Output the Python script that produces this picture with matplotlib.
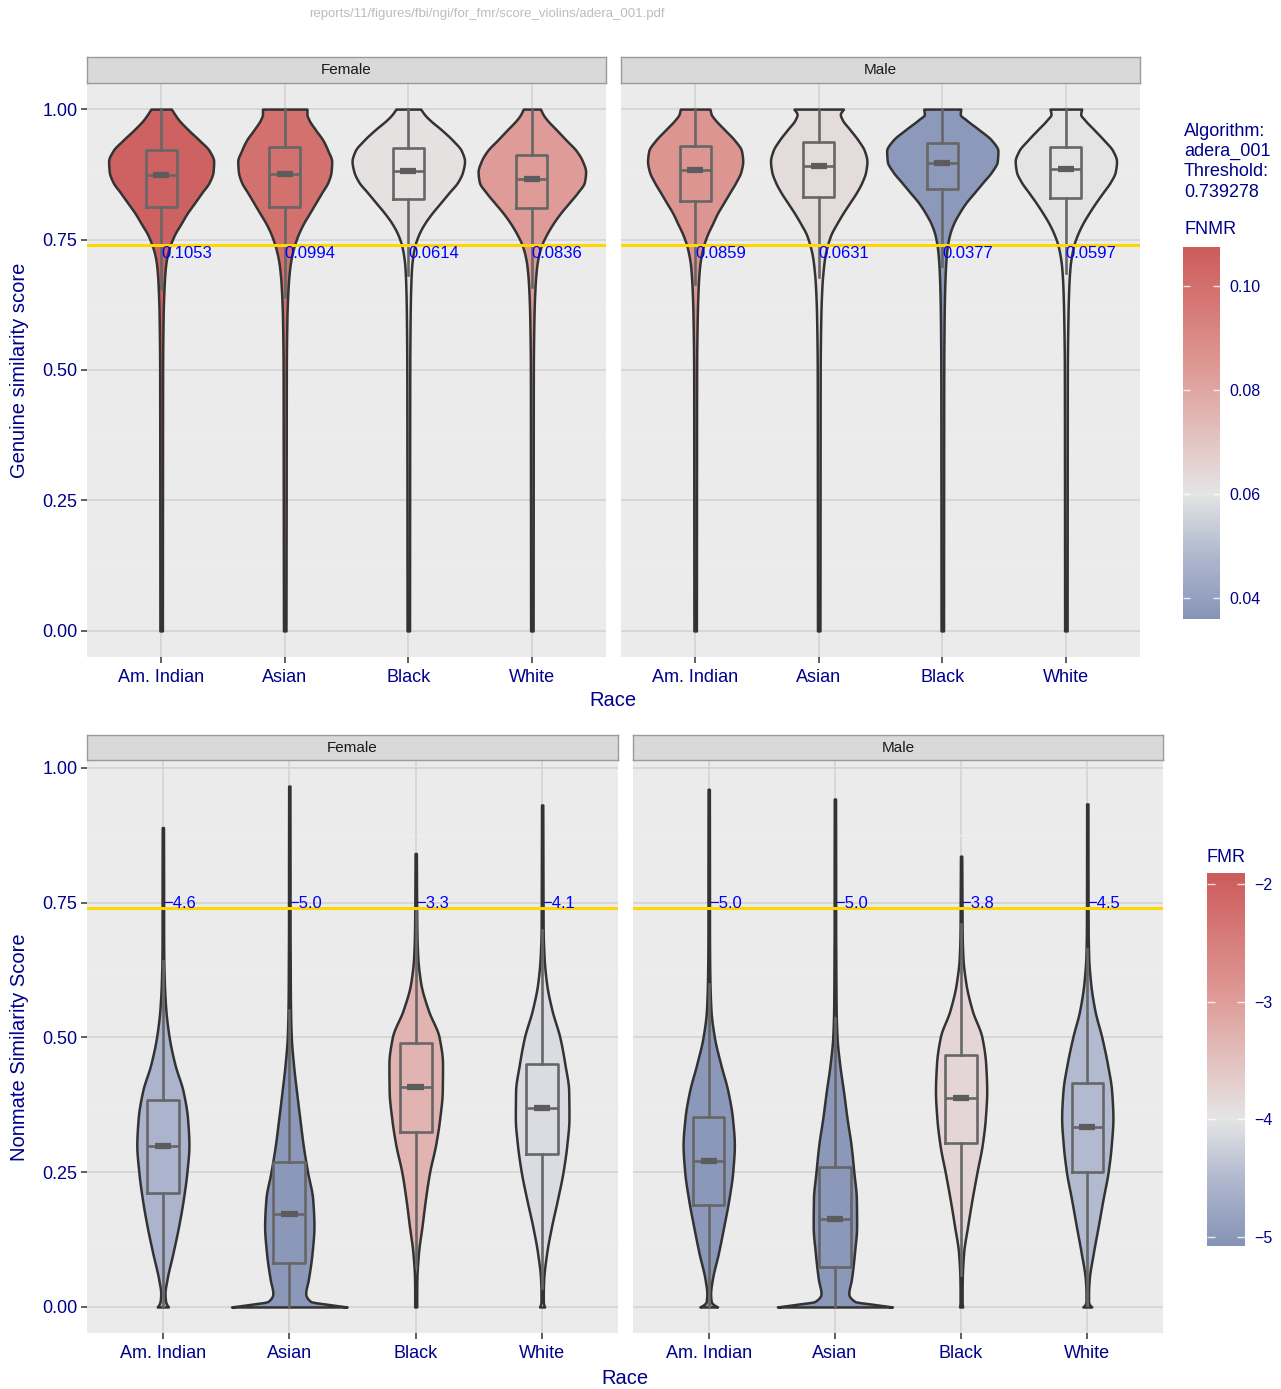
import numpy as np
import matplotlib
matplotlib.use("Agg")
import matplotlib.pyplot as plt
from matplotlib.colors import LinearSegmentedColormap, Normalize

plt.rcParams['font.family'] = ['Liberation Sans', 'DejaVu Sans']

# ---------------- data ----------------
RACES = ["Am. Indian", "Asian", "Black", "White"]
SEXES = ["Female", "Male"]
THRESHOLD = 0.739278
ALGORITHM = "adera_001"

FNMR_F = [0.1053, 0.0994, 0.0614, 0.0836]
FNMR_M = [0.0859, 0.0631, 0.0377, 0.0597]
FMR_F = [-4.6, -5.0, -3.3, -4.1]
FMR_M = [-5.0, -5.0, -3.8, -4.5]

# genuine score boxplot statistics
GEN_F_WLO = [0.655, 0.640, 0.683, 0.659]
GEN_F_Q1 = [0.813, 0.812, 0.828, 0.811]
GEN_F_MED = [0.873, 0.876, 0.881, 0.866]
GEN_F_Q3 = [0.922, 0.928, 0.925, 0.912]
GEN_F_WHI = [1.0, 1.0, 1.0, 1.0]
GEN_M_WLO = [0.665, 0.678, 0.700, 0.685]
GEN_M_Q1 = [0.824, 0.832, 0.847, 0.830]
GEN_M_MED = [0.884, 0.891, 0.896, 0.885]
GEN_M_Q3 = [0.929, 0.937, 0.935, 0.928]
GEN_M_WHI = [1.0, 1.0, 1.0, 1.0]

# genuine violin half-widths (category units) at score levels GEN_Y
GEN_Y = [0.0, 0.30, 0.50, 0.60, 0.66, 0.70, 0.72, 0.74, 0.76, 0.78, 0.80,
         0.82, 0.84, 0.86, 0.88, 0.90, 0.92, 0.94, 0.96, 0.98, 0.99, 1.00]
GEN_F_AMI = [0.010, 0.011, 0.012, 0.016, 0.024, 0.036, 0.050, 0.075, 0.110, 0.160, 0.210,
             0.270, 0.330, 0.390, 0.420, 0.425, 0.390, 0.310, 0.220, 0.140, 0.110, 0.083]
GEN_F_ASI = [0.010, 0.012, 0.013, 0.018, 0.028, 0.043, 0.058, 0.080, 0.110, 0.150, 0.200,
             0.250, 0.300, 0.350, 0.375, 0.380, 0.350, 0.310, 0.250, 0.195, 0.180, 0.180]
GEN_F_BLK = [0.010, 0.011, 0.012, 0.015, 0.020, 0.028, 0.038, 0.055, 0.085, 0.130, 0.190,
             0.260, 0.330, 0.400, 0.440, 0.455, 0.430, 0.360, 0.270, 0.170, 0.130, 0.100]
GEN_F_WHT = [0.010, 0.011, 0.012, 0.017, 0.026, 0.040, 0.055, 0.080, 0.120, 0.170, 0.230,
             0.300, 0.370, 0.425, 0.435, 0.410, 0.360, 0.280, 0.200, 0.120, 0.090, 0.070]
GEN_M_AMI = [0.010, 0.011, 0.012, 0.017, 0.025, 0.037, 0.050, 0.070, 0.100, 0.140, 0.180,
             0.230, 0.280, 0.330, 0.370, 0.385, 0.375, 0.320, 0.240, 0.160, 0.130, 0.120]
GEN_M_ASI = [0.010, 0.011, 0.012, 0.017, 0.026, 0.040, 0.052, 0.072, 0.100, 0.145, 0.195,
             0.250, 0.305, 0.350, 0.380, 0.390, 0.370, 0.320, 0.255, 0.190, 0.175, 0.200]
GEN_M_BLK = [0.010, 0.011, 0.012, 0.015, 0.020, 0.027, 0.033, 0.043, 0.060, 0.090, 0.135,
             0.190, 0.260, 0.330, 0.400, 0.445, 0.450, 0.400, 0.300, 0.190, 0.145, 0.150]
GEN_M_WHT = [0.010, 0.011, 0.012, 0.017, 0.024, 0.035, 0.047, 0.065, 0.095, 0.135, 0.185,
             0.240, 0.300, 0.360, 0.400, 0.410, 0.380, 0.310, 0.230, 0.150, 0.120, 0.128]

# nonmate score boxplot statistics
NON_F_WLO = [0.0, 0.0, 0.076, 0.035]
NON_F_Q1 = [0.211, 0.082, 0.324, 0.284]
NON_F_MED = [0.298, 0.173, 0.408, 0.369]
NON_F_Q3 = [0.383, 0.269, 0.489, 0.450]
NON_F_WHI = [0.641, 0.550, 0.736, 0.699]
NON_M_WLO = [0.0, 0.0, 0.060, 0.003]
NON_M_Q1 = [0.189, 0.075, 0.304, 0.251]
NON_M_MED = [0.270, 0.163, 0.387, 0.334]
NON_M_Q3 = [0.353, 0.259, 0.467, 0.416]
NON_M_WHI = [0.599, 0.535, 0.711, 0.663]
NON_F_MAX = [0.889, 0.966, 0.841, 0.931]
NON_M_MAX = [0.960, 0.942, 0.836, 0.933]

# nonmate violin half-widths at score levels NON_Y (then thin up to the max)
NON_Y = [0.0, 0.005, 0.01, 0.025, 0.05, 0.10, 0.15, 0.20, 0.25, 0.30, 0.35,
         0.40, 0.45, 0.50, 0.55, 0.60, 0.65, 0.70, 0.75]
NON_F_AMI = [0.044, 0.030, 0.022, 0.017, 0.032, 0.080, 0.125, 0.162, 0.190, 0.206, 0.195,
             0.160, 0.095, 0.050, 0.024, 0.012, 0.007, 0.006, 0.006]
NON_F_ASI = [0.457, 0.300, 0.170, 0.130, 0.150, 0.180, 0.195, 0.185, 0.145, 0.110, 0.083,
             0.057, 0.033, 0.016, 0.010, 0.008, 0.007, 0.006, 0.006]
NON_F_BLK = [0.008, 0.008, 0.008, 0.008, 0.009, 0.022, 0.050, 0.077, 0.110, 0.157, 0.190,
             0.210, 0.212, 0.185, 0.100, 0.040, 0.016, 0.009, 0.007]
NON_F_WHT = [0.020, 0.012, 0.009, 0.009, 0.012, 0.036, 0.075, 0.122, 0.165, 0.195, 0.212,
             0.210, 0.180, 0.140, 0.078, 0.035, 0.015, 0.008, 0.007]
NON_M_AMI = [0.070, 0.035, 0.020, 0.015, 0.028, 0.077, 0.120, 0.160, 0.190, 0.203, 0.188,
             0.152, 0.095, 0.045, 0.018, 0.010, 0.007, 0.006, 0.006]
NON_M_ASI = [0.456, 0.300, 0.160, 0.110, 0.130, 0.155, 0.172, 0.170, 0.150, 0.128, 0.096,
             0.068, 0.038, 0.017, 0.010, 0.008, 0.007, 0.006, 0.006]
NON_M_BLK = [0.012, 0.009, 0.008, 0.008, 0.009, 0.020, 0.052, 0.087, 0.126, 0.167, 0.192,
             0.203, 0.195, 0.165, 0.088, 0.038, 0.014, 0.008, 0.007]
NON_M_WHT = [0.035, 0.016, 0.010, 0.010, 0.015, 0.048, 0.087, 0.125, 0.165, 0.190, 0.203,
             0.193, 0.160, 0.115, 0.060, 0.027, 0.011, 0.007, 0.006]

FNMR_LIMITS = (0.036, 0.1075)
FNMR_MID = 0.06
FNMR_TICKS = [0.04, 0.06, 0.08, 0.10]
FMR_LIMITS = (-5.08, -1.906)
FMR_MID = -4.0
FMR_TICKS = [-5, -4, -3, -2]

# ---------------- style ----------------
W, H = 1281, 1389
NAVY = '#00008B'
OUTLINE = '#333333'
BOXC = '#666666'
PANEL_BG = '#EBEBEB'
CMAP = LinearSegmentedColormap.from_list(
    'fmr', [(0.0, '#2E4A8E'), (0.24, '#8593B6'), (0.38, '#B2BAD0'),
            (0.5, '#E5E5E5'), (0.75, '#DF9B97'), (1.0, '#CD5C5C')])


def mid_norm(limits, mid):
    d = max(limits[1] - mid, mid - limits[0])
    return Normalize(vmin=mid - d, vmax=mid + d)


def rect(l, t, r, b):
    return [l / W, 1 - b / H, (r - l) / W, (b - t) / H]


def pchip(xk, yk, xq):
    xk = np.asarray(xk, float)
    yk = np.asarray(yk, float)
    h = np.diff(xk)
    delta = np.diff(yk) / h
    d = np.zeros_like(yk)
    d[0] = delta[0]
    d[-1] = delta[-1]
    for k in range(1, len(xk) - 1):
        if delta[k - 1] * delta[k] > 0:
            w1 = 2 * h[k] + h[k - 1]
            w2 = h[k] + 2 * h[k - 1]
            d[k] = (w1 + w2) / (w1 / delta[k - 1] + w2 / delta[k])
    i = np.clip(np.searchsorted(xk, xq) - 1, 0, len(xk) - 2)
    t = (xq - xk[i]) / h[i]
    h00 = 2 * t ** 3 - 3 * t ** 2 + 1
    h10 = t ** 3 - 2 * t ** 2 + t
    h01 = -2 * t ** 3 + 3 * t ** 2
    h11 = t ** 3 - t ** 2
    return h00 * yk[i] + h10 * h[i] * d[i] + h01 * yk[i + 1] + h11 * h[i] * d[i + 1]


fig = plt.figure(figsize=(W / 100, H / 100), dpi=100)
fig.patch.set_facecolor('white')


def style_panel(ax, ylim, show_y):
    ax.set_facecolor(PANEL_BG)
    ax.set_xlim(0.4, 4.6)
    ax.set_ylim(*ylim)
    for s in ax.spines.values():
        s.set_visible(False)
    ax.set_xticks([1, 2, 3, 4])
    ax.set_xticklabels(RACES)
    ax.set_yticks([0, 0.25, 0.5, 0.75, 1.0])
    ax.set_yticks([0.125, 0.375, 0.625, 0.875], minor=True)
    ax.set_yticklabels(['0.00', '0.25', '0.50', '0.75', '1.00'] if show_y else [])
    ax.tick_params(axis='both', which='major', length=4.5, width=1.1, color='#333333',
                   labelcolor=NAVY, labelsize=13, pad=2.5)
    ax.tick_params(axis='x', which='major', pad=4)
    ax.tick_params(axis='y', which='minor', length=0)
    if not show_y:
        ax.tick_params(axis='y', which='major', length=0)
    ax.grid(which='major', color='#D2D2D2', lw=1.1)
    ax.grid(which='minor', axis='y', color='#EFEFEF', lw=0.7)
    ax.set_axisbelow(True)


def strip(r, label):
    s = fig.add_axes(rect(*r))
    s.set_facecolor('#D9D9D9')
    s.set_xticks([])
    s.set_yticks([])
    for sp in s.spines.values():
        sp.set_color('#9A9A9A')
        sp.set_linewidth(1.0)
    s.text(0.5, 0.5, label, ha='center', va='center', fontsize=11, color='#1A1A1A',
           transform=s.transAxes)


def draw_violins(ax, ylist, widths_list, tops, colors):
    for i, (w, top) in enumerate(zip(widths_list, tops)):
        ys = [y for y in ylist if y < top] + [top]
        ws = list(w[:len(ys) - 1]) + ([w[len(ys) - 1]] if top == ylist[-1] else [0.005])
        yy = np.union1d(np.linspace(ys[0], ys[-1], 600), ys)
        ww = np.maximum(pchip(ys, ws, yy), 0.004)
        x = i + 1
        ax.fill_betweenx(yy, x - ww, x + ww, facecolor=colors[i], edgecolor=OUTLINE,
                         lw=1.8, zorder=2)


def draw_boxes(ax, wlo, q1, med, q3, whi):
    stats = [dict(whislo=a, q1=b, med=c, q3=d, whishi=e)
             for a, b, c, d, e in zip(wlo, q1, med, q3, whi)]
    pos = [1, 2, 3, 4]
    ax.bxp(stats, positions=pos, widths=0.25, showfliers=False, showcaps=False,
           boxprops=dict(color=BOXC, lw=1.9), whiskerprops=dict(color=BOXC, lw=1.9),
           medianprops=dict(color=BOXC, lw=1.9), manage_ticks=False, zorder=3)
    ax.hlines(med, [p - 0.065 for p in pos], [p + 0.065 for p in pos], color='#5C5C5C',
              lw=4.5, zorder=3.5)


fnmr_norm = mid_norm(FNMR_LIMITS, FNMR_MID)
fmr_norm = mid_norm(FMR_LIMITS, FMR_MID)

# ---------------- genuine (top) ----------------
gen_panels = [
    ((87, 83, 606, 657), (87, 57, 606, 83), 'Female',
     [GEN_F_AMI, GEN_F_ASI, GEN_F_BLK, GEN_F_WHT], FNMR_F,
     (GEN_F_WLO, GEN_F_Q1, GEN_F_MED, GEN_F_Q3, GEN_F_WHI), True),
    ((621, 83, 1140, 657), (621, 57, 1140, 83), 'Male',
     [GEN_M_AMI, GEN_M_ASI, GEN_M_BLK, GEN_M_WHT], FNMR_M,
     (GEN_M_WLO, GEN_M_Q1, GEN_M_MED, GEN_M_Q3, GEN_M_WHI), False),
]
for r, sr, label, widths, rates, box, show_y in gen_panels:
    ax = fig.add_axes(rect(*r))
    style_panel(ax, (-0.05, 1.05), show_y)
    colors = [CMAP(fnmr_norm(v)) for v in rates]
    draw_violins(ax, GEN_Y, widths, [1.0] * 4, colors)
    draw_boxes(ax, *box)
    ax.axhline(THRESHOLD, color='#FFD700', lw=2.2, zorder=4)
    for i, v in enumerate(rates):
        ax.text(i + 1, THRESHOLD - 0.002, f"{v:.4f}", ha='left', va='top', color='#0000FF',
                fontsize=12, zorder=5)
    strip(sr, label)

# ---------------- nonmate (bottom) ----------------
non_panels = [
    ((87, 760, 618, 1333), (87, 735, 618, 760), 'Female',
     [NON_F_AMI, NON_F_ASI, NON_F_BLK, NON_F_WHT], FMR_F, NON_F_MAX,
     (NON_F_WLO, NON_F_Q1, NON_F_MED, NON_F_Q3, NON_F_WHI), True),
    ((633, 760, 1163, 1333), (633, 735, 1163, 760), 'Male',
     [NON_M_AMI, NON_M_ASI, NON_M_BLK, NON_M_WHT], FMR_M, NON_M_MAX,
     (NON_M_WLO, NON_M_Q1, NON_M_MED, NON_M_Q3, NON_M_WHI), False),
]
non_top = max(NON_F_MAX + NON_M_MAX)
for r, sr, label, widths, rates, tops, box, show_y in non_panels:
    ax = fig.add_axes(rect(*r))
    style_panel(ax, (-0.05 * non_top, non_top * 1.05), show_y)
    colors = [CMAP(fmr_norm(v)) for v in rates]
    draw_violins(ax, NON_Y, widths, tops, colors)
    draw_boxes(ax, *box)
    ax.axhline(THRESHOLD, color='#FFD700', lw=2.2, zorder=4)
    for i, v in enumerate(rates):
        ax.text(i + 1, THRESHOLD + 0.001, f"{v:.1f}".replace('-', '\u2212'), ha='left',
                va='baseline', color='#0000FF', fontsize=12, zorder=5)
    strip(sr, label)

# ---------------- axis titles ----------------
fig.text(20 / W, 1 - 370 / H, 'Genuine similarity score', rotation=90, ha='center',
         va='center', fontsize=14.5, color=NAVY)
fig.text(20 / W, 1 - 1047 / H, 'Nonmate Similarity Score', rotation=90, ha='center',
         va='center', fontsize=14.5, color=NAVY)
fig.text(613 / W, 1 - 700 / H, 'Race', ha='center', va='center', fontsize=14.5, color=NAVY)
fig.text(625 / W, 1 - 1378 / H, 'Race', ha='center', va='center', fontsize=14.5, color=NAVY)
fig.text(487 / W, 1 - 14 / H, 'reports/11/figures/fbi/ngi/for_fmr/score_violins/adera_001.pdf',
         ha='center', va='center', fontsize=9.5, color='#BDBDBD')

# ---------------- legends ----------------
fig.text(1184 / W, 1 - 123 / H, f"Algorithm:\n{ALGORITHM}\nThreshold:\n{THRESHOLD:.6f}",
         ha='left', va='top', fontsize=13, color=NAVY, linespacing=1.24)
fig.text(1184 / W, 1 - 230 / H, 'FNMR', ha='left', va='center', fontsize=13, color=NAVY)
fig.text(1207 / W, 1 - 858 / H, 'FMR', ha='left', va='center', fontsize=13, color=NAVY)


def colorbar(r, limits, norm, ticks, labels):
    cax = fig.add_axes(rect(*r))
    vals = np.linspace(limits[0], limits[1], 300)
    img = CMAP(norm(vals))[:, None, :]
    cax.imshow(img, origin='lower', extent=[0, 1, limits[0], limits[1]], aspect='auto',
               interpolation='bilinear')
    cax.set_xlim(0, 1)
    cax.set_ylim(*limits)
    for s in cax.spines.values():
        s.set_visible(False)
    cax.set_xticks([])
    cax.yaxis.tick_right()
    cax.set_yticks(ticks)
    cax.set_yticklabels(labels)
    cax.tick_params(axis='y', length=0, pad=7, labelsize=11.5, labelcolor=NAVY)
    cax.hlines(ticks, 0, 0.2, color='white', lw=1.0, alpha=0.8)
    cax.hlines(ticks, 0.8, 1.0, color='white', lw=1.0, alpha=0.8)


colorbar((1183, 247, 1220, 619), FNMR_LIMITS, fnmr_norm, FNMR_TICKS,
         [f"{t:.2f}" for t in FNMR_TICKS])
colorbar((1207, 873, 1245, 1246), FMR_LIMITS, fmr_norm, FMR_TICKS,
         [f"{t}".replace('-', '\u2212') for t in FMR_TICKS])

fig.savefig('out.png', dpi=100, facecolor='white')
